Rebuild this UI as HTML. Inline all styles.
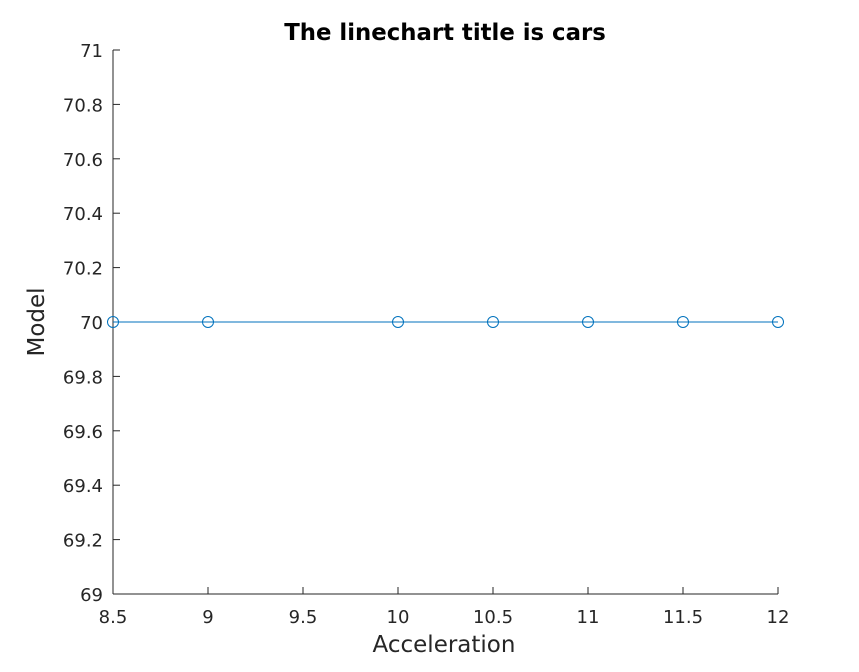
<!DOCTYPE html>
<html><head><meta charset="utf-8"><style>
body{margin:0;background:#fff;}
svg text{font-family:"DejaVu Sans","Liberation Sans",sans-serif;fill:#262626;}
</style></head><body>
<svg id="chart" width="859" height="667" xmlns="http://www.w3.org/2000/svg">
<rect width="859" height="667" fill="#fff"/>
<text x="445" y="40" text-anchor="middle" font-size="22.8" font-weight="bold" style="fill:#000">The linechart title is cars</text>
<g id="axes"></g>
<text x="444" y="652" text-anchor="middle" font-size="23">Acceleration</text>
<text transform="translate(44,322) rotate(-90)" text-anchor="middle" font-size="23">Model</text>
</svg>
<script>
const xValues=[8.5,9,10,10.5,11,11.5,12];
const yValues=[70,70,70,70,70,70,70];
const xTicks=[8.5,9,9.5,10,10.5,11,11.5,12];
const xTickLabels=["8.5","9","9.5","10","10.5","11","11.5","12"];
const yTicks=[69,69.2,69.4,69.6,69.8,70,70.2,70.4,70.6,70.8,71];
const yTickLabels=["69","69.2","69.4","69.6","69.8","70","70.2","70.4","70.6","70.8","71"];
const L=113,R=778,T=50,B=594,xMin=8.5,xMax=12,yMin=69,yMax=71;
const sx=v=>L+(v-xMin)/(xMax-xMin)*(R-L);
const sy=v=>B-(v-yMin)/(yMax-yMin)*(B-T);
const NS="http://www.w3.org/2000/svg";
const g=document.getElementById('axes');
function mk(tag,attrs){const e=document.createElementNS(NS,tag);for(const k in attrs)e.setAttribute(k,attrs[k]);g.appendChild(e);return e;}
let e=mk('line',{x1:L,y1:B,x2:R,y2:B,stroke:'#262626','stroke-width':1});


e=mk('line',{x1:L,y1:T,x2:L,y2:B,stroke:'#262626','stroke-width':1});


xTicks.forEach((v,i)=>{
 const x=sx(v);
 let t=mk('line',{x1:x,y1:B,x2:x,y2:B-7,stroke:'#262626'});
 
 
 let l=mk('text',{x:x,y:623,'text-anchor':'middle','font-size':18});
 l.textContent=xTickLabels[i];
 
 
});
yTicks.forEach((v,i)=>{
 const y=sy(v);
 let t=mk('line',{x1:L,y1:y,x2:L+7,y2:y,stroke:'#262626'});
 
 
 let l=mk('text',{x:103,y:y+7,'text-anchor':'end','font-size':18});
 l.textContent=yTickLabels[i];
 
 
});
const pts=xValues.map((v,i)=>sx(v)+','+sy(yValues[i])).join(' ');
let p=mk('polyline',{points:pts,fill:'none',stroke:'#0072BD','stroke-width':1});


xValues.forEach((v,i)=>{
 let c=mk('circle',{cx:sx(v),cy:sy(yValues[i]),r:5.5,fill:'none',stroke:'#0072BD','stroke-width':1});
 
 
});
</script>
</body></html>
